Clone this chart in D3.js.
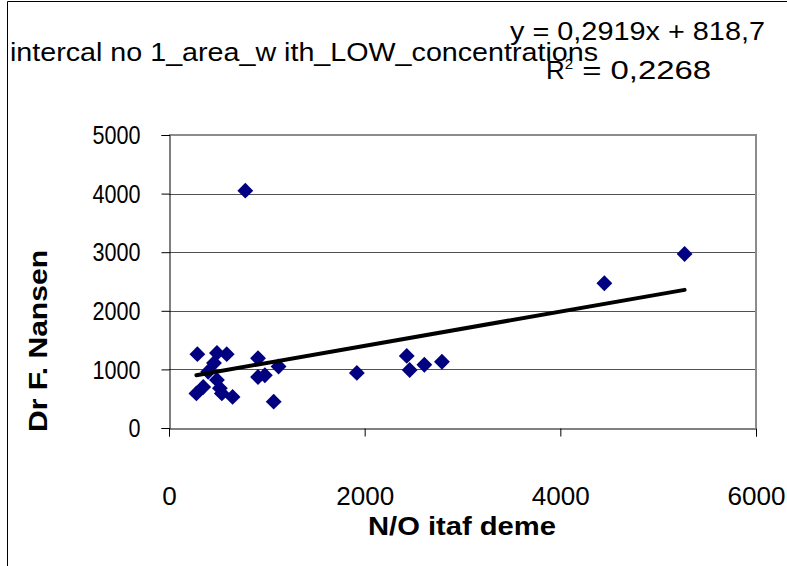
<!DOCTYPE html>
<html>
<head>
<meta charset="utf-8">
<title>intercal no 1</title>
<script src="https://d3js.org/d3.v7.min.js"></script>
<style>
  body { margin: 0; background: #fff; }
  svg { display: block; font-family: "Liberation Sans", Arial, sans-serif; }
</style>
</head>
<body>
<div id="chart"></div>
<script>
// N/O itaf deme (x) vs Dr F. Nansen (y)
const xValues = [780, 5270, 4450, 2430, 2460, 2610, 2790, 1920,
                 290, 490, 590, 460, 280, 350, 490, 520, 540, 650,
                 910, 910, 980, 1120, 1070, 400];
const yValues = [4050, 2970, 2470, 1230, 990, 1080, 1130, 940,
                 1260, 1280, 1260, 1110, 590, 700, 820, 680, 590, 530,
                 1190, 870, 900, 1050, 450, 960];
const xTicks = [0, 2000, 4000, 6000];
const yTicks = [0, 1000, 2000, 3000, 4000, 5000];
const slope = 0.2919, intercept = 818.7;

const width = 787, height = 566;
const plot = { left: 169, right: 756, top: 135, bottom: 428 };

const svg = d3.select("#chart").append("svg")
  .attr("width", width).attr("height", height);

// outer chart border (only left/top visible)
svg.append("path")
  .attr("d", "M7.5,566V1.5H787")
  .attr("fill", "none").attr("stroke", "#000").attr("stroke-width", 1);

const x = d3.scaleLinear().domain([0, 6000]).range([plot.left, plot.right]);
const y = d3.scaleLinear().domain([0, 5000]).range([plot.bottom, plot.top]);

// gridlines
svg.append("g").selectAll("line")
  .data(yTicks.filter(d => d > 0 && d < 5000))
  .join("line")
  .attr("x1", plot.left).attr("x2", plot.right)
  .attr("y1", d => Math.round(y(d)) + 0.5).attr("y2", d => Math.round(y(d)) + 0.5)
  .attr("stroke", "#505050").attr("stroke-width", 1);

// gray frame top/right
svg.append("path")
  .attr("d", `M${plot.left},${plot.top}H${plot.right}V${plot.bottom}`)
  .attr("fill", "none").attr("stroke", "#8c8c8c").attr("stroke-width", 2);

// axes
const xAxis = svg.append("g")
  .attr("transform", `translate(0,${plot.bottom + 0.5})`)
  .call(d3.axisBottom(x).tickValues(xTicks).tickSize(8).tickPadding(60).tickFormat(d3.format("d")));
const yAxis = svg.append("g")
  .attr("transform", `translate(${plot.left + 0.5},0)`)
  .call(d3.axisLeft(y).tickValues(yTicks).tickSize(8).tickPadding(21).tickFormat(d3.format("d")));
[xAxis, yAxis].forEach(g => {
  g.select(".domain").attr("stroke", "#000");
  g.selectAll(".tick line").attr("stroke", "#000");
  g.selectAll(".tick text").attr("font-size", 25).attr("fill", "#000")
    .attr("dy", "0.35em").attr("lengthAdjust", "spacingAndGlyphs");
});
// the original labels are drawn narrower than the regular face
yAxis.selectAll(".tick text").attr("textLength", d => String(d).length * 12);
xAxis.selectAll(".tick text").attr("textLength", d => String(d).length * 14.5);

// points
svg.append("g").selectAll("path")
  .data(xValues.map((v, i) => [v, yValues[i]]))
  .join("path")
  .attr("transform", d => `translate(${x(d[0])},${y(d[1])})`)
  .attr("d", d3.symbol(d3.symbolDiamond2, 160))
  .attr("fill", "#000080");

// linear trendline
const xMin = d3.min(xValues), xMax = d3.max(xValues);
svg.append("line")
  .attr("x1", x(xMin)).attr("y1", y(slope * xMin + intercept))
  .attr("x2", x(xMax)).attr("y2", y(slope * xMax + intercept))
  .attr("stroke", "#000").attr("stroke-width", 4).attr("stroke-linecap", "round");

// texts
svg.append("text")
  .attr("x", 10).attr("y", 61)
  .attr("font-size", 25)
  .attr("textLength", 588).attr("lengthAdjust", "spacingAndGlyphs")
  .text("intercal no 1_area_w ith_LOW_concentrations");

svg.append("text")
  .attr("x", 510).attr("y", 40)
  .attr("font-size", 25)
  .attr("textLength", 255).attr("lengthAdjust", "spacingAndGlyphs")
  .text("y = 0,2919x + 818,7");

const r2 = svg.append("text")
  .attr("x", 546).attr("y", 79)
  .attr("font-size", 26);
r2.append("tspan").text("R");
r2.append("tspan").attr("font-size", 15).attr("dy", -10).text("2");
r2.append("tspan").attr("dy", 10)
  .attr("textLength", 138).attr("lengthAdjust", "spacingAndGlyphs")
  .text(" = 0,2268");

svg.append("text")
  .attr("x", 462).attr("y", 535)
  .attr("text-anchor", "middle")
  .attr("font-size", 25).attr("font-weight", "bold")
  .attr("textLength", 188).attr("lengthAdjust", "spacingAndGlyphs")
  .text("N/O itaf deme");

svg.append("text")
  .attr("transform", "translate(47,341) rotate(-90)")
  .attr("text-anchor", "middle")
  .attr("font-size", 25).attr("font-weight", "bold")
  .attr("textLength", 182).attr("lengthAdjust", "spacingAndGlyphs")
  .text("Dr F. Nansen");
</script>
</body>
</html>
